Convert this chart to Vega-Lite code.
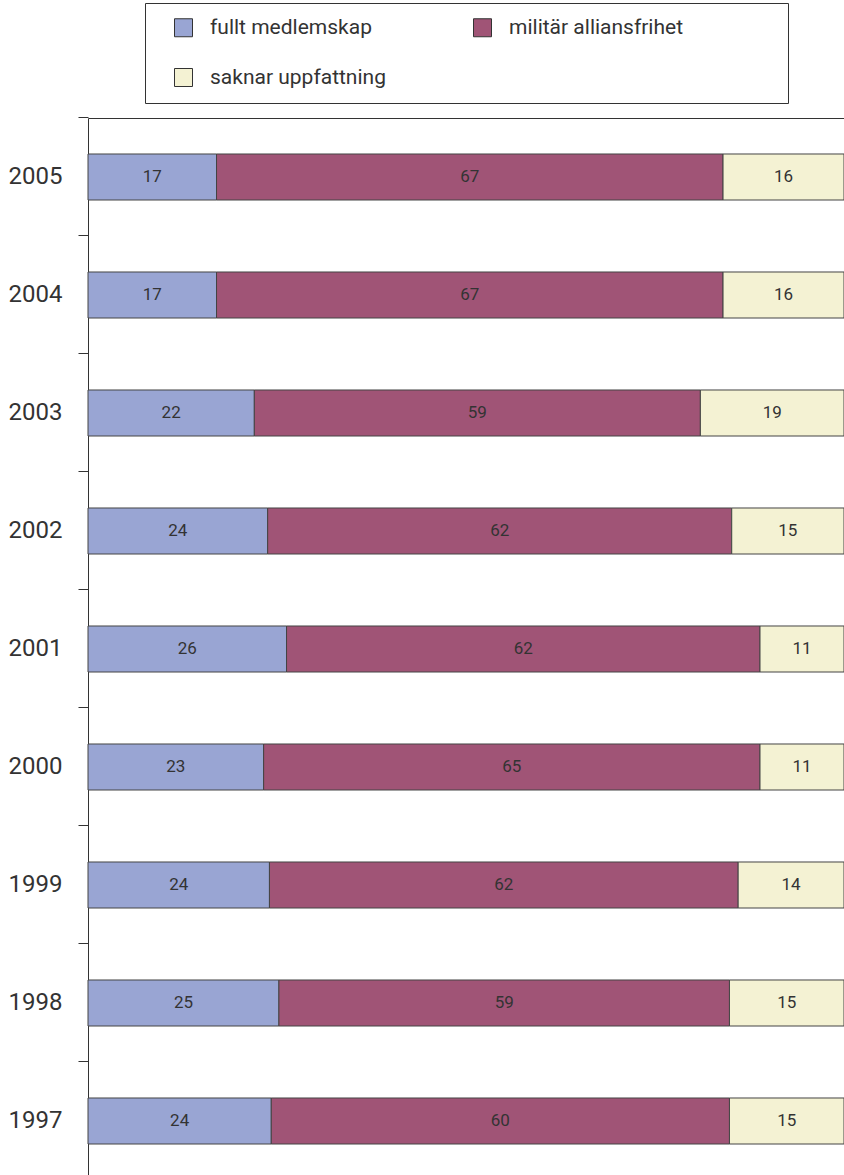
{
  "$schema": "https://vega.github.io/schema/vega-lite/v6.json",
  "autosize": {"type": "none"},
  "padding": {"left": 88, "top": 118, "right": 0, "bottom": 0},
  "width": 756,
  "height": 1057,
  "background": "white",
  "config": {"view": {"stroke": null}, "font": "Roboto"},
  "data": {"values": [
    {"ar": "2005", "kategori": "fullt medlemskap", "procent": 17},
    {"ar": "2005", "kategori": "militär alliansfrihet", "procent": 67},
    {"ar": "2005", "kategori": "saknar uppfattning", "procent": 16},
    {"ar": "2004", "kategori": "fullt medlemskap", "procent": 17},
    {"ar": "2004", "kategori": "militär alliansfrihet", "procent": 67},
    {"ar": "2004", "kategori": "saknar uppfattning", "procent": 16},
    {"ar": "2003", "kategori": "fullt medlemskap", "procent": 22},
    {"ar": "2003", "kategori": "militär alliansfrihet", "procent": 59},
    {"ar": "2003", "kategori": "saknar uppfattning", "procent": 19},
    {"ar": "2002", "kategori": "fullt medlemskap", "procent": 24},
    {"ar": "2002", "kategori": "militär alliansfrihet", "procent": 62},
    {"ar": "2002", "kategori": "saknar uppfattning", "procent": 15},
    {"ar": "2001", "kategori": "fullt medlemskap", "procent": 26},
    {"ar": "2001", "kategori": "militär alliansfrihet", "procent": 62},
    {"ar": "2001", "kategori": "saknar uppfattning", "procent": 11},
    {"ar": "2000", "kategori": "fullt medlemskap", "procent": 23},
    {"ar": "2000", "kategori": "militär alliansfrihet", "procent": 65},
    {"ar": "2000", "kategori": "saknar uppfattning", "procent": 11},
    {"ar": "1999", "kategori": "fullt medlemskap", "procent": 24},
    {"ar": "1999", "kategori": "militär alliansfrihet", "procent": 62},
    {"ar": "1999", "kategori": "saknar uppfattning", "procent": 14},
    {"ar": "1998", "kategori": "fullt medlemskap", "procent": 25},
    {"ar": "1998", "kategori": "militär alliansfrihet", "procent": 59},
    {"ar": "1998", "kategori": "saknar uppfattning", "procent": 15},
    {"ar": "1997", "kategori": "fullt medlemskap", "procent": 24},
    {"ar": "1997", "kategori": "militär alliansfrihet", "procent": 60},
    {"ar": "1997", "kategori": "saknar uppfattning", "procent": 15}
  ]},
  "transform": [
    {"stack": "procent", "groupby": ["ar"], "offset": "normalize", "sort": [{"field": "kategori", "order": "ascending"}], "as": ["x0", "x1"]},
    {"calculate": "(datum.x0 + datum.x1) / 2", "as": "xm"}
  ],
  "encoding": {
    "y": {
      "field": "ar", "type": "ordinal", "sort": "descending",
      "scale": {"range": [0, 1062], "paddingInner": 0.61, "paddingOuter": 0.305},
      "axis": {
        "title": null, "orient": "left", "bandPosition": -0.7826,
        "domainColor": "#333333", "domainWidth": 1,
        "tickColor": "#333333", "tickSize": 10, "tickWidth": 1,
        "labelFontSize": 24, "labelColor": "#333333", "labelPadding": 16, "labelFont": "Roboto"
      }
    }
  },
  "layer": [
    {
      "mark": {"type": "bar", "stroke": "#444444", "strokeWidth": 1},
      "encoding": {
        "x": {"field": "x0", "type": "quantitative", "scale": {"domain": [0, 1], "nice": false},
              "axis": {"orient": "top", "title": null, "labels": false, "ticks": false, "grid": false, "domainColor": "#333333", "domainWidth": 1}},
        "x2": {"field": "x1"},
        "color": {
          "field": "kategori", "type": "nominal",
          "scale": {"domain": ["fullt medlemskap", "militär alliansfrihet", "saknar uppfattning"],
                    "range": ["#99a5d3", "#a05476", "#f4f2d3"]},
          "legend": {
            "title": " ", "titleOrient": "right", "titlePadding": 91,
            "orient": "none", "legendX": 57, "legendY": -115,
            "direction": "horizontal", "columns": 2, "columnPadding": 72, "rowPadding": 27,
            "symbolType": "square", "symbolSize": 324, "symbolStrokeColor": "#333333", "symbolStrokeWidth": 1,
            "symbolOffset": 14, "labelOffset": 16,
            "labelFontSize": 21, "labelColor": "#333333", "labelFont": "Roboto", "labelLimit": 300,
            "strokeColor": "#333333", "padding": 14, "fillColor": "white"
          }
        }
      }
    },
    {
      "mark": {"type": "text", "fontSize": 17, "color": "#333333", "font": "Roboto", "baseline": "middle", "align": "center"},
      "encoding": {
        "x": {"field": "xm", "type": "quantitative"},
        "text": {"field": "procent", "type": "quantitative"}
      }
    }
  ]
}
